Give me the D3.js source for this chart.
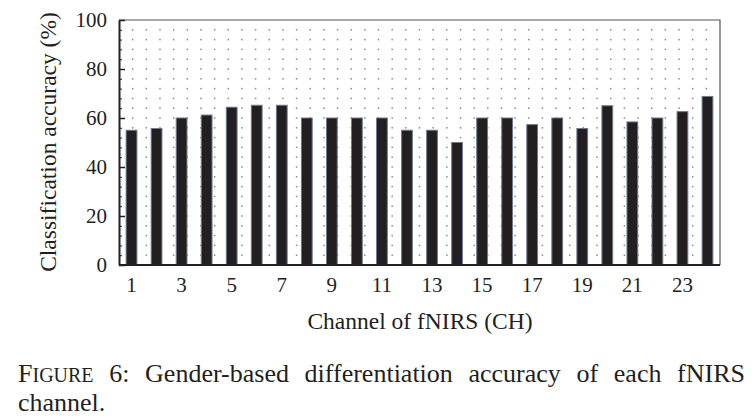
<!DOCTYPE html>
<html><head><meta charset="utf-8">
<script src="https://cdn.jsdelivr.net/npm/d3@7"></script>
<style>
html,body{margin:0;padding:0;background:#fff;}
svg{display:block;}
text{font-family:"Liberation Serif","Times New Roman",serif;fill:#231f20;}
</style></head>
<body>
<svg id="chart" width="754" height="419"></svg>
<script>
const channels = d3.range(1, 25);
const accuracy = [55, 55.7, 60, 61.2, 64.4, 65.2, 65.2, 60, 60, 60, 60, 55, 55, 50, 60, 60, 57.3, 60, 55.7, 65, 58.4, 60, 62.6, 68.8];
const yTicks = [0, 20, 40, 60, 80, 100];
const xTickLabels = [1, 3, 5, 7, 9, 11, 13, 15, 17, 19, 21, 23];
const xTitle = "Channel of fNIRS (CH)";
const yTitle = "Classification accuracy (%)";
const captionLine1 = ["6:", "Gender-based", "differentiation", "accuracy", "of", "each", "fNIRS"];
const captionLine2 = "channel.";

const svg = d3.select("#chart");
const L = 119, R = 720, T = 20, B = 265;

const x = d3.scaleBand().domain(channels).range([L, R]).paddingInner(0.57).paddingOuter(0.285);
const y = d3.scaleLinear().domain([0, 100]).range([B, T]);

// dotted grid
const gx = d3.range(1, 44).map(i => L + i * (R - L) / 44);
const gy = d3.range(1, 25).map(j => y(j * 4));
const grid = svg.append("g");
gx.forEach(px => gy.forEach(py => {
  grid.append("rect").attr("x", px - 0.75).attr("y", py - 0.75).attr("width", 1.5).attr("height", 1.5).attr("fill", "#8a8a8a");
}));

// bars
svg.append("g").selectAll("rect").data(channels).join("rect")
  .attr("x", d => x(d)).attr("width", x.bandwidth())
  .attr("y", (d, i) => y(accuracy[i])).attr("height", (d, i) => B - y(accuracy[i]))
  .attr("fill", "#231f20").attr("stroke", "#6b7a8f").attr("stroke-width", 1);

// top/right frame
svg.append("path").attr("d", `M${L},${T}H${R}V${B}`).attr("fill", "none").attr("stroke", "#555").attr("stroke-width", 1.2);

// minor y ticks
const yMinor = d3.axisLeft(y).tickValues(d3.range(0, 101, 4)).tickSize(-3).tickFormat("");
svg.append("g").attr("transform", `translate(${L},0)`).call(yMinor)
  .call(g => g.select(".domain").remove())
  .call(g => g.selectAll("line").attr("stroke", "#231f20").attr("stroke-width", 1));

// major y axis
const yAxis = d3.axisLeft(y).tickValues(yTicks).tickSizeInner(-6).tickSizeOuter(0).tickPadding(12);
svg.append("g").attr("transform", `translate(${L},0)`).call(yAxis)
  .call(g => g.select(".domain").attr("stroke", "#231f20").attr("stroke-width", 2))
  .call(g => g.selectAll("line").attr("stroke", "#231f20").attr("stroke-width", 1.5))
  .call(g => g.selectAll("text").attr("font-size", 21).attr("fill", "#231f20").attr("font-family", "Liberation Serif"));

// x axis
const xAxis = d3.axisBottom(x).tickValues(xTickLabels).tickSize(0).tickPadding(12);
svg.append("g").attr("transform", `translate(0,${B})`).call(xAxis)
  .call(g => g.select(".domain").attr("d", `M${L},0H${R}`).attr("stroke", "#231f20").attr("stroke-width", 2))
  .call(g => g.selectAll("text").attr("font-size", 21).attr("fill", "#231f20").attr("font-family", "Liberation Serif"));

// titles
svg.append("text").attr("x", 420).attr("y", 329).attr("text-anchor", "middle").attr("font-size", 23.5).text(xTitle);
svg.append("text").attr("transform", `translate(56,142) rotate(-90)`).attr("text-anchor", "middle").attr("font-size", 23.5).text(yTitle);

// caption
const cap = svg.append("text").attr("x", 18).attr("y", 382).attr("font-size", 26);
const first = cap.append("tspan");
first.append("tspan").text("F");
first.append("tspan").attr("font-size", 20).text("IGURE");
captionLine1.forEach(w => cap.append("tspan").text(" " + w));
const natural = cap.node().getComputedTextLength();
const gaps = captionLine1.length;
cap.attr("word-spacing", Math.max(0, (745 - 18 - natural) / gaps));
svg.append("text").attr("x", 18).attr("y", 411).attr("font-size", 26).text(captionLine2);
</script>
</body></html>
